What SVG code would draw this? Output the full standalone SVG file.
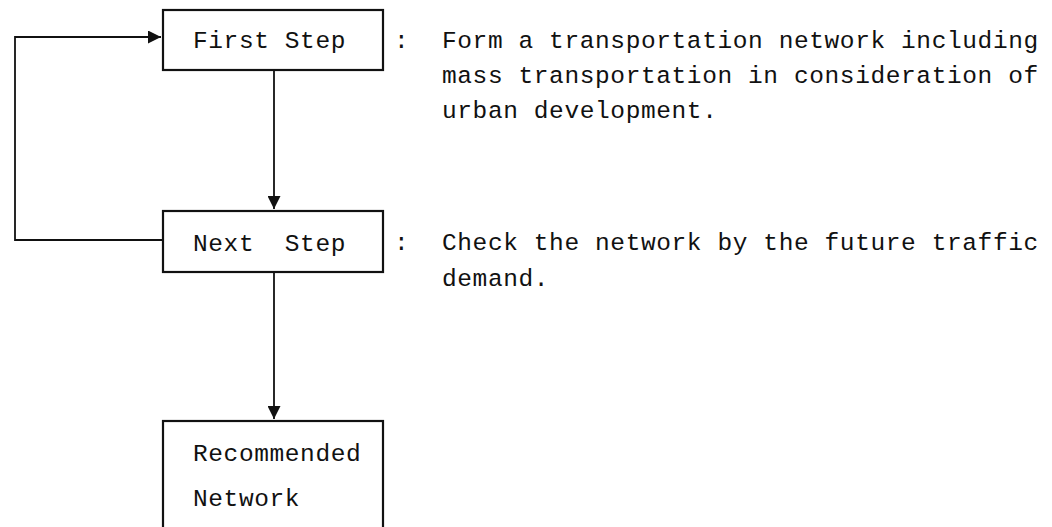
<svg xmlns="http://www.w3.org/2000/svg" width="1052" height="527" viewBox="0 0 1052 527">
<style>
.box{fill:#fff;stroke:#111;stroke-width:2.2}
.ln{fill:none;stroke:#111;stroke-width:1.8}
text{font-family:"Liberation Mono","DejaVu Sans Mono",monospace;font-size:24.5px;letter-spacing:0.6px;fill:#111}
</style>
<defs>
<marker id="ah" viewBox="0 0 12 12" refX="12" refY="6" markerWidth="13" markerHeight="13" markerUnits="userSpaceOnUse" orient="auto">
<path d="M0,0 L12,6 L0,12 Z" fill="#111"/>
</marker>
</defs>
<rect width="1052" height="527" fill="#fff"/>
<g id="connectors">
<path class="ln" d="M274,70 V209" marker-end="url(#ah)"/>
<path class="ln" d="M274,272 V419" marker-end="url(#ah)"/>
<path class="ln" d="M163,240 H15 V37 H161" marker-end="url(#ah)"/>
</g>
<g id="first-step">
<rect class="box" x="163" y="10" width="220" height="60"/>
<text x="193" y="48">First Step</text>
</g>
<g id="next-step">
<rect class="box" x="163" y="211" width="220" height="61"/>
<text x="193" y="251" xml:space="preserve">Next  Step</text>
</g>
<g id="recommended">
<rect class="box" x="163" y="421" width="220" height="120"/>
<text x="193" y="461">Recommended</text>
<text x="193" y="506">Network</text>
</g>
<g id="descriptions">
<text x="394" y="48">:</text>
<text x="442" y="48">Form a transportation network including</text>
<text x="442" y="83">mass transportation in consideration of</text>
<text x="442" y="118">urban development.</text>
<text x="394" y="250">:</text>
<text x="442" y="250">Check the network by the future traffic</text>
<text x="442" y="286">demand.</text>
</g>
</svg>
